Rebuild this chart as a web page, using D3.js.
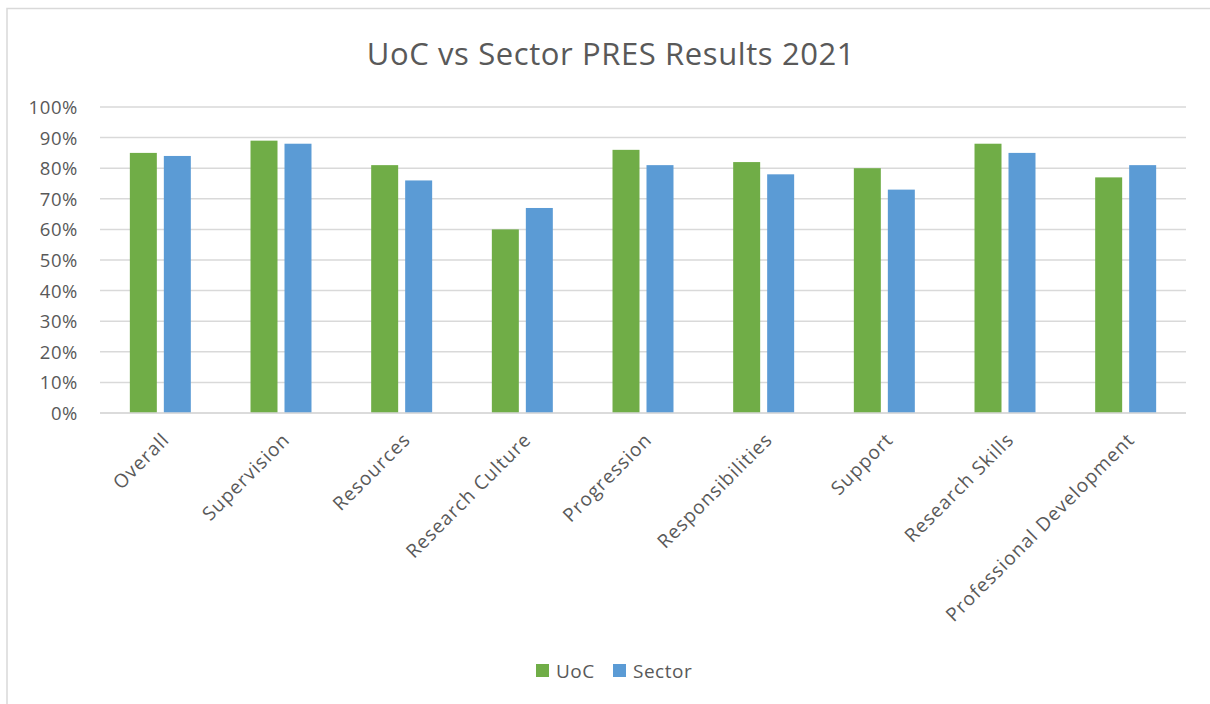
<!DOCTYPE html>
<html><head><meta charset="utf-8">
<script src="https://cdn.jsdelivr.net/npm/d3@7"></script>
<style>body{margin:0;background:#fff}svg{display:block}text{font-family:"Open Sans",sans-serif;fill:#595959}</style>
</head><body>
<svg id="c" width="1210" height="704"></svg>
<script>
const categories = ["Overall","Supervision","Resources","Research Culture","Progression","Responsibilities","Support","Research Skills","Professional Development"];
const seriesNames = ["UoC","Sector"];
const uocValues = [0.85,0.89,0.81,0.60,0.86,0.82,0.80,0.88,0.77];
const sectorValues = [0.84,0.88,0.76,0.67,0.81,0.78,0.73,0.85,0.81];
const yTicks = [0,0.1,0.2,0.3,0.4,0.5,0.6,0.7,0.8,0.9,1.0];
const colors = ["#70AD47","#5B9BD5"];

const svg = d3.select("#c");
svg.append("rect").attr("x",7).attr("y",8.5).attr("width",1210).attr("height",710)
  .attr("fill","#fff").attr("stroke","#d9d9d9").attr("stroke-width",1.5);

const m = {left:100,right:1186,top:107,bottom:413};
const x = d3.scaleBand().domain(categories).range([m.left,m.right]).paddingInner(0).paddingOuter(0);
const x1 = d3.scaleBand().domain(seriesNames).range([0,x.bandwidth()]).paddingInner(0.206).paddingOuter(0.878);
const y = d3.scaleLinear().domain([0,1]).range([m.bottom,m.top]);

// gridlines
svg.append("g").selectAll("line").data(yTicks).join("line")
  .attr("x1",m.left).attr("x2",m.right).attr("y1",d=>y(d)).attr("y2",d=>y(d))
  .attr("stroke","#d9d9d9").attr("stroke-width",1.5);

// y labels
const yAxis = d3.axisLeft(y).tickValues(yTicks).tickFormat(d3.format(".0%")).tickSize(0).tickPadding(0);
const ya = svg.append("g").attr("transform","translate(78,0)").call(yAxis);
ya.select(".domain").remove();
ya.selectAll("text").style("font-size","18.5px").style("letter-spacing","0.6px").attr("fill","#595959").attr("dy","0.35em");

// bars
const data = categories.map((c,i)=>({c, vals:[uocValues[i],sectorValues[i]]}));
const g = svg.append("g").selectAll("g").data(data).join("g").attr("transform",d=>`translate(${x(d.c)},0)`);
g.selectAll("rect").data(d=>d.vals.map((v,j)=>({v,s:seriesNames[j],j}))).join("rect")
  .attr("x",d=>x1(d.s)).attr("width",x1.bandwidth())
  .attr("y",d=>y(d.v)).attr("height",d=>y(0)-y(d.v))
  .attr("fill",d=>colors[d.j]);

// x axis line
svg.append("line").attr("x1",m.left).attr("x2",m.right).attr("y1",y(0)).attr("y2",y(0))
  .attr("stroke","#d9d9d9").attr("stroke-width",1.5);

// x labels
const xAxis = d3.axisBottom(x).tickSize(0).tickPadding(0);
const xa = svg.append("g").attr("transform",`translate(0,${y(0)})`).call(xAxis);
xa.select(".domain").remove();
xa.selectAll("text").style("font-size","19px").style("letter-spacing","1px").attr("fill","#595959")
  .attr("text-anchor","end").attr("dy",null).attr("y",0)
  .attr("transform","translate(10,28) rotate(-45)");

// title
svg.append("text").attr("x",611).attr("y",65).attr("text-anchor","middle")
  .style("font-size","31px").style("letter-spacing","0.6px").text("UoC vs Sector PRES Results 2021");

// legend
const lg = svg.append("g").attr("transform","translate(536,664)");
const items = lg.selectAll("g").data(seriesNames).join("g").attr("transform",(d,i)=>`translate(${i*77},0)`);
items.append("rect").attr("width",13).attr("height",13).attr("fill",(d,i)=>colors[i]);
items.append("text").attr("x",20).attr("y",13.5).style("font-size","19px").style("letter-spacing","0.5px").text(d=>d);
</script>
</body></html>
